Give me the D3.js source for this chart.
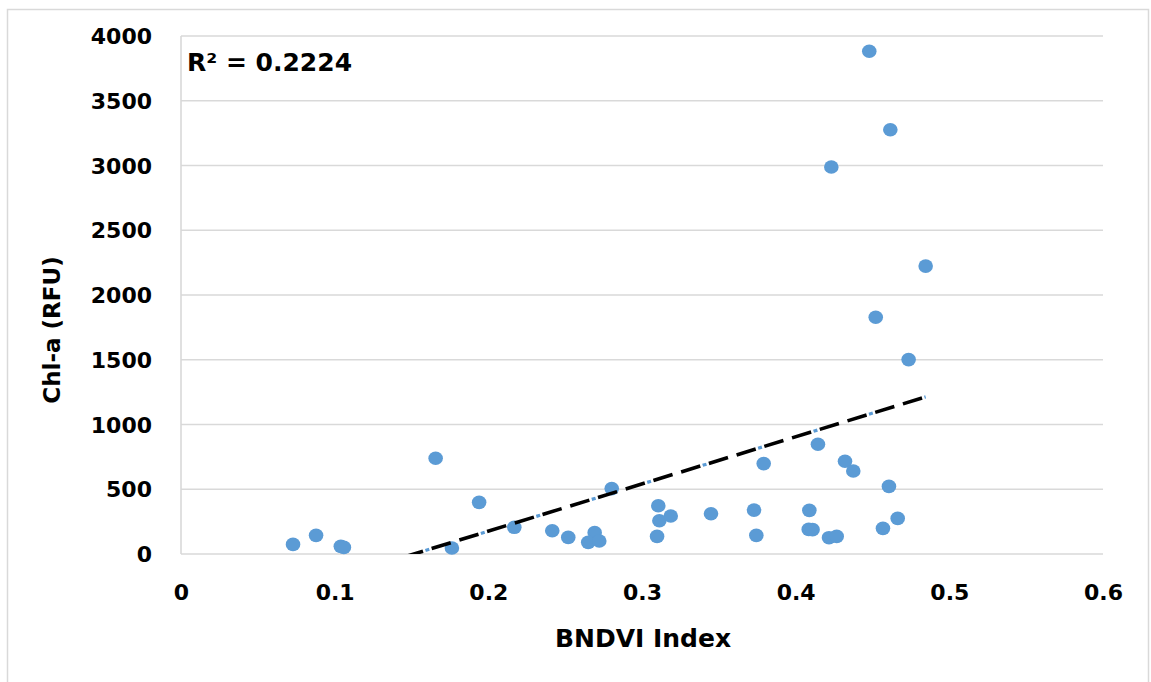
<!DOCTYPE html>
<html>
<head>
<meta charset="utf-8">
<script src="https://cdn.jsdelivr.net/npm/d3@7"></script>
<style>
  html, body { margin: 0; padding: 0; background: #fff; }
  svg { display: block; }
  text { font-family: "DejaVu Sans", sans-serif; font-weight: bold; fill: #000; }
</style>
</head>
<body>
<svg id="chart" width="1151" height="682"></svg>
<script>
// ---- data ----
const bndvi = [0.0729, 0.0879, 0.104, 0.106, 0.1657, 0.1763, 0.194, 0.2169, 0.2416, 0.252,
               0.2692, 0.265, 0.2722, 0.2803, 0.3106, 0.3113, 0.3187, 0.3098, 0.3449, 0.3729,
               0.3744, 0.3792, 0.4145, 0.4321, 0.4375, 0.4607, 0.4089, 0.4085, 0.411, 0.4217,
               0.4267, 0.4568, 0.4664, 0.4521, 0.4735, 0.4479, 0.4616, 0.4232, 0.4846];
const chla  = [74, 144, 59, 51, 739, 46, 399, 206, 180, 128,
               165, 90, 100, 505, 373, 257, 293, 136, 311, 339,
               144, 698, 847, 716, 641, 522, 337, 190, 188, 126,
               136, 198, 275, 1828, 1501, 3882, 3276, 2988, 2223];
const xTicks = [0, 0.1, 0.2, 0.3, 0.4, 0.5, 0.6];
const yTicks = [0, 500, 1000, 1500, 2000, 2500, 3000, 3500, 4000];
const trendSlope = [3643];
const trendIntercept = [-552];
const r2Label = "R\u00B2 = 0.2224";
const xTitle = "BNDVI Index";
const yTitle = "Chl-a (RFU)";

// ---- layout ----
const svg = d3.select("#chart");
const L = 181, R = 1103, T = 36, B = 554;
const x = d3.scaleLinear().domain([0, 0.6]).range([L, R]);
const y = d3.scaleLinear().domain([0, 4000]).range([B, T]);

// outer border
svg.append("rect").attr("x", 7.5).attr("y", 9.5).attr("width", 1141).attr("height", 700)
  .attr("fill", "none").attr("stroke", "#d9d9d9").attr("stroke-width", 1.5);

// gridlines
svg.append("g").selectAll("line").data(yTicks).join("line")
  .attr("x1", L).attr("x2", R).attr("y1", d => y(d)).attr("y2", d => y(d))
  .attr("stroke", "#d9d9d9").attr("stroke-width", 1.6);
// left axis line
svg.append("line").attr("x1", L).attr("x2", L).attr("y1", T).attr("y2", B)
  .attr("stroke", "#d9d9d9").attr("stroke-width", 1.6);

// y axis labels
const yAxis = d3.axisLeft(y).tickValues(yTicks).tickSize(0).tickPadding(0).tickFormat(d3.format("d"));
const gy = svg.append("g").attr("transform", `translate(${152},0)`).call(yAxis);
gy.select(".domain").remove();
gy.selectAll("text").attr("font-size", 22).attr("font-family", "DejaVu Sans").attr("font-weight", "bold").attr("fill", "#000").attr("dy", "0.35em").attr("x", 0);

// x axis labels
const xAxis = d3.axisBottom(x).tickValues(xTicks).tickSize(0).tickPadding(0).tickFormat(d => d === 0 ? "0" : d3.format(".1f")(d));
const gx = svg.append("g").attr("transform", `translate(0,${592})`).call(xAxis);
gx.select(".domain").remove();
gx.selectAll("text").attr("font-size", 22).attr("font-family", "DejaVu Sans").attr("font-weight", "bold").attr("fill", "#000").attr("dy", "0.35em").attr("y", 0);

// titles
svg.append("text").attr("x", 643).attr("y", 638).attr("dy", "0.35em").attr("text-anchor", "middle")
  .attr("font-size", 25).text(xTitle);
svg.append("text").attr("transform", `translate(${52},${330}) rotate(-90)`).attr("dy", "0.35em")
  .attr("text-anchor", "middle").attr("font-size", 23).text(yTitle);

// clip
svg.append("clipPath").attr("id", "plotclip").append("rect")
  .attr("x", L).attr("y", T - 10).attr("width", R - L).attr("height", B - T + 10);

// points
svg.append("g").selectAll("ellipse").data(bndvi.map((v, i) => [v, chla[i]])).join("ellipse")
  .attr("cx", d => x(d[0])).attr("cy", d => y(d[1])).attr("rx", 7.3).attr("ry", 6.8)
  .attr("fill", "#5b9bd5");

// trendline
const xmin = d3.min(bndvi), xmax = d3.max(bndvi);
const tl = [xmin, xmax].map(v => [x(v), y(trendSlope[0] * v + trendIntercept[0])]);
const tg = svg.append("g").attr("clip-path", "url(#plotclip)");
tg.append("line").attr("x1", tl[0][0]).attr("y1", tl[0][1]).attr("x2", tl[1][0]).attr("y2", tl[1][1])
  .attr("stroke", "#000").attr("stroke-width", 3.6).attr("stroke-dasharray", "20 9");
tg.append("line").attr("x1", tl[0][0]).attr("y1", tl[0][1]).attr("x2", tl[1][0]).attr("y2", tl[1][1])
  .attr("stroke", "#5b9bd5").attr("stroke-width", 3.2).attr("stroke-dasharray", "4 54").attr("stroke-dashoffset", -22.5);

// R² label
svg.append("text").attr("x", 187).attr("y", 62).attr("dy", "0.35em").attr("font-size", 25).text(r2Label);
</script>
</body>
</html>
